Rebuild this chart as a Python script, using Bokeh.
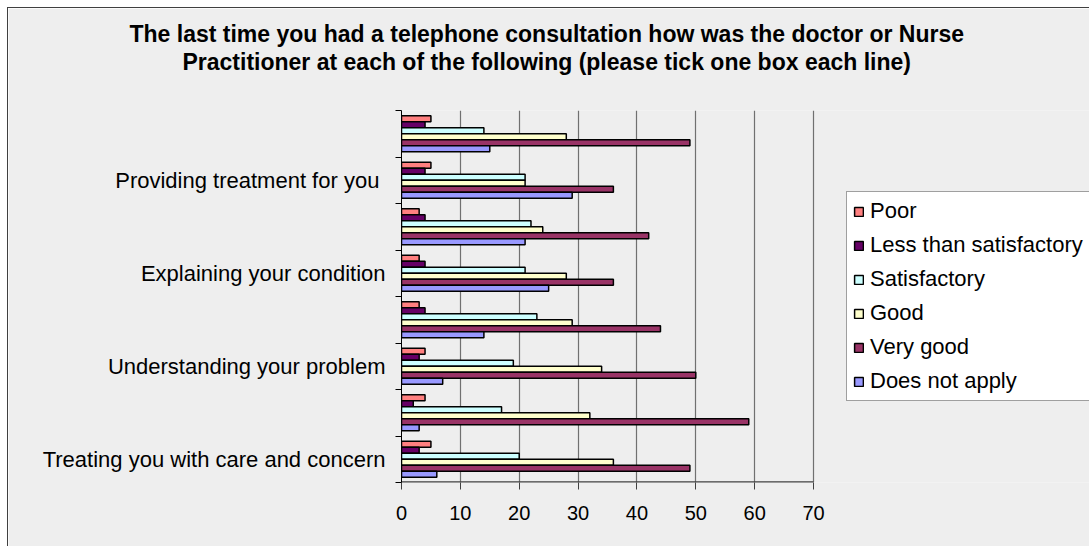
from bokeh.plotting import figure
from bokeh.models import (Range1d, FixedTicker, ColumnDataSource, Legend, LegendItem, Title)
from bokeh.transform import dodge
from bokeh.embed import file_html
from bokeh.resources import INLINE

# Categories, bottom to top (only every other one is labelled in the source chart)
categories = ["Treating you with care and concern", "", "Understanding your problem", "",
              "Explaining your condition", "", "Providing  treatment for you", ""]
series = ["Poor", "Less than satisfactory", "Satisfactory", "Good", "Very good", "Does not apply"]
poor = [5, 4, 4, 3, 3, 3, 5, 5]
less_than_satisfactory = [3, 2, 3, 4, 4, 4, 4, 4]
satisfactory = [20, 17, 19, 23, 21, 22, 21, 14]
good = [36, 32, 34, 29, 28, 24, 21, 28]
very_good = [49, 59, 50, 44, 36, 42, 36, 49]
does_not_apply = [6, 3, 7, 14, 25, 21, 29, 15]
x_ticks = [0, 10, 20, 30, 40, 50, 60, 70]
title_lines = ["The last time you had a telephone consultation how was the doctor or Nurse",
               "Practitioner at each of the following  (please tick one box each line)"]

values = [poor, less_than_satisfactory, satisfactory, good, very_good, does_not_apply]
colors = ["#FF8080", "#660066", "#CCFFFF", "#FFFFCC", "#993366", "#9999FF"]

FONT = "Liberation Sans"
BG = "#EEEEEE"

W, H = 1082, 539
LEFT, TOP, BOTTOM, RIGHT = 393, 102, 65, 1
AXIS_PX = 412                      # pixel length of the 0..70 value axis
frame_w = W - LEFT - RIGHT
x_max = x_ticks[-1]
x_end = x_max * frame_w / AXIS_PX  # frame extends right to host the legend

p = figure(width=W, height=H, x_range=Range1d(0, x_end), y_range=Range1d(0, len(categories)),
           output_backend="svg", toolbar_location=None,
           min_border_left=LEFT, min_border_right=RIGHT, min_border_top=TOP, min_border_bottom=BOTTOM)
p.background_fill_color = BG
p.border_fill_color = BG
p.outline_line_color = None

# title: outer line (p.title) = line 1; added items stack outward: spacer (nearest plot), then line 2
p.title.text = title_lines[0]
p.title.align = "left"
p.title.offset = -272
p.title.standoff = 0
p.title.text_font = FONT
p.title.text_font_size = "23px"
p.title.text_font_style = "bold"
p.title.text_color = "#000000"
p.add_layout(Title(text=" ", text_font_size="1px", standoff=33, text_color=BG), "above")
p.add_layout(Title(text=title_lines[1], align="left", offset=-219, standoff=0,
                   text_font=FONT, text_font_size="23px", text_font_style="bold",
                   text_color="#000000"), "above")

centers = [i + 0.5 for i in range(len(categories))]
h = 0.129
renderers = []
for k, (name, vals, col) in enumerate(zip(series, values, colors)):
    src = ColumnDataSource(dict(y=centers, v=vals))
    r = p.hbar(y=dodge("y", (2.5 - k) * h, range=p.y_range), right="v", left=0, height=h,
               source=src, fill_color=col, line_color="#000000", line_width=1.5)
    renderers.append((name, r))

# value-axis baseline (only over 0..70)
p.segment(x0=[0], x1=[x_max], y0=[0], y1=[0], line_color="#404040", line_width=2.4)

# grid
p.ygrid.grid_line_color = None
p.xgrid.grid_line_color = "#707070"
p.xgrid.grid_line_width = 1.2
p.xgrid.ticker = FixedTicker(ticks=x_ticks[1:])

# x axis
p.xaxis.ticker = FixedTicker(ticks=x_ticks)
p.xaxis.axis_line_color = None
p.xaxis.major_tick_line_color = "#404040"
p.xaxis.major_tick_in = 0
p.xaxis.major_tick_out = 7
p.xaxis.minor_tick_line_color = None
p.xaxis.major_label_text_font = FONT
p.xaxis.major_label_text_font_size = "20px"
p.xaxis.major_label_text_color = "#000000"
p.xaxis.major_label_standoff = 16

# y axis
p.yaxis.ticker = FixedTicker(ticks=[centers[i] for i in range(0, 8, 2)],
                             minor_ticks=list(range(0, 9)))
p.yaxis.major_label_overrides = {centers[i]: categories[i] for i in range(0, 8, 2)}
p.yaxis.axis_line_color = "#000000"
p.yaxis.major_tick_line_color = None
p.yaxis.major_tick_out = 0
p.yaxis.major_tick_in = 0
p.yaxis.minor_tick_line_color = "#000000"
p.yaxis.minor_tick_out = 6
p.yaxis.minor_tick_in = 0
p.yaxis.major_label_text_font = FONT
p.yaxis.major_label_text_font_size = "22px"
p.yaxis.major_label_text_color = "#000000"
p.yaxis.major_label_standoff = 10

legend = Legend(items=[LegendItem(label=n, renderers=[r]) for n, r in renderers],
                location=(445, 81), orientation="vertical",
                background_fill_color="#FFFFFF", background_fill_alpha=1.0,
                border_line_color="#404040", border_line_width=1,
                label_text_font=FONT, label_text_font_size="22px", label_text_color="#000000",
                glyph_width=11, glyph_height=11, label_standoff=6, label_height=22,
                spacing=8, padding=6, margin=0)
p.add_layout(legend, "center")

p.styles = {"margin-left": "7px", "margin-top": "7px",
            "border-left": "1px solid #404040", "border-top": "1px solid #404040"}

open("out.html", "w").write(file_html(p, INLINE))
